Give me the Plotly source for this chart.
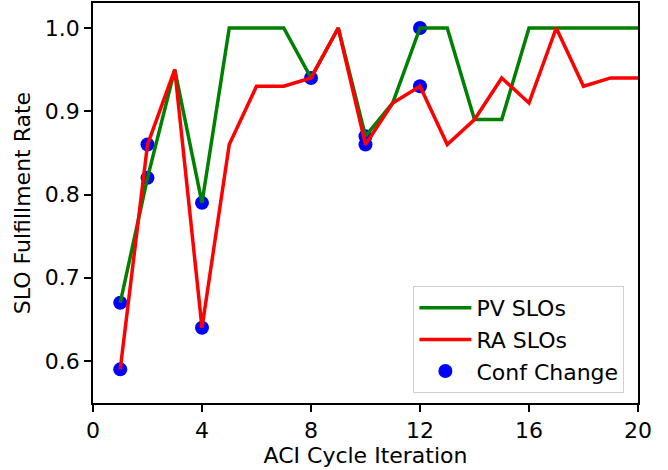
import plotly.graph_objects as go

iterations = list(range(1, 21))
pv_slos = [0.67, 0.82, 0.95, 0.79, 1.0, 1.0, 1.0, 0.94, 1.0, 0.87,
           0.91, 1.0, 1.0, 0.89, 0.89, 1.0, 1.0, 1.0, 1.0, 1.0]
ra_slos = [0.59, 0.86, 0.95, 0.64, 0.86, 0.93, 0.93, 0.94, 1.0, 0.86,
           0.91, 0.93, 0.86, 0.89, 0.94, 0.91, 1.0, 0.93, 0.94, 0.94]
conf_x = [1, 1, 2, 2, 4, 4, 8, 10, 10, 12, 12]
conf_y = [0.67, 0.59, 0.86, 0.82, 0.79, 0.64, 0.94, 0.87, 0.86, 1.0, 0.93]
x_ticks = [0, 4, 8, 12, 16, 20]
y_ticks = [0.6, 0.7, 0.8, 0.9, 1.0]

FONT = "DejaVu Sans"
FS = 22

fig = go.Figure()
fig.add_trace(go.Scatter(x=conf_x, y=conf_y, mode="markers", name="Conf Change",
                         marker=dict(color="#0000ff", size=14, line=dict(width=0)),
                         legendrank=3))
fig.add_trace(go.Scatter(x=iterations, y=pv_slos, mode="lines", name="PV SLOs",
                         line=dict(color="#008000", width=3.5), legendrank=1))
fig.add_trace(go.Scatter(x=iterations, y=ra_slos, mode="lines", name="RA SLOs",
                         line=dict(color="#ff0000", width=3.5), legendrank=2))

axis_common = dict(showline=True, linecolor="black", linewidth=1.5, mirror=True,
                   ticks="outside", ticklen=7, tickwidth=1.5, tickcolor="black",
                   showgrid=False, zeroline=False, automargin=False,
                   tickfont=dict(family=FONT, size=FS, color="black"))

fig.update_xaxes(range=[0, 20], tickvals=x_ticks, ticktext=[str(v) for v in x_ticks],
                 title=dict(text="ACI Cycle Iteration", font=dict(family=FONT, size=FS, color="black"),
                            standoff=4),
                 **axis_common)
fig.update_yaxes(range=[0.5496, 1.030], tickvals=y_ticks, ticktext=[f"{v:.1f}" for v in y_ticks],
                 title=dict(text="SLO Fulfillment Rate", font=dict(family=FONT, size=FS, color="black"),
                            standoff=8),
                 **axis_common)

fig.update_layout(
    width=668, height=470,
    margin=dict(l=93, r=30, t=3, b=67, autoexpand=False),
    plot_bgcolor="white", paper_bgcolor="white",
    font=dict(family=FONT, size=FS, color="black"),
    legend=dict(x=0.975, y=0.025, xanchor="right", yanchor="bottom",
                bgcolor="rgba(255,255,255,0.8)", bordercolor="#d0d0d0", borderwidth=1,
                font=dict(family=FONT, size=FS, color="black"),
                tracegroupgap=0, itemwidth=52),
    showlegend=True,
)

fig.write_html("out.html", config={"displayModeBar": False},
               post_script="document.body.style.margin='0';document.body.style.padding='0';")
